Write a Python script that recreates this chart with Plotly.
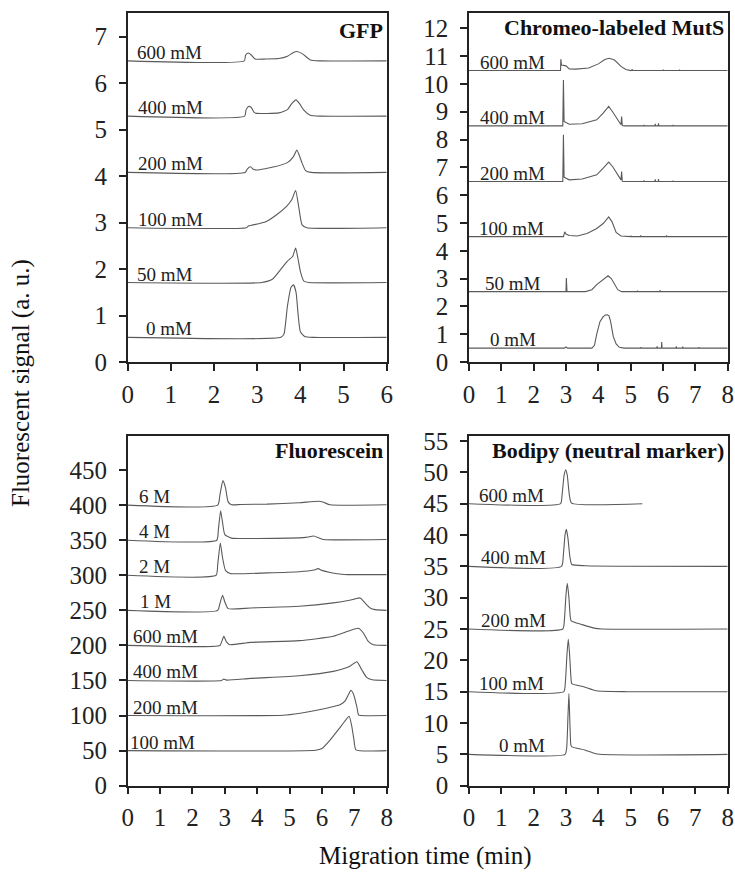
import plotly.graph_objects as go

FONT = "Liberation Serif, Times New Roman, serif"
LINE_COLOR = "#5a5a5a"

# ---------------- GFP panel ----------------
GFP_LABELS = ["0 mM", "50 mM", "100 mM", "200 mM", "400 mM", "600 mM"]
GFP_LABEL_X = [0.96, 0.86, 0.98, 1.0, 1.0, 0.97]
GFP_X = [
    [0, 3.55, 3.62, 3.7, 3.78, 3.84, 3.9, 3.95, 4.0, 4.1, 4.3, 6],
    [0, 3.1, 3.35, 3.55, 3.7, 3.82, 3.89, 3.95, 4.0, 4.08, 4.2, 6],
    [0, 2.75, 2.8, 2.9, 3.2, 3.45, 3.68, 3.8, 3.89, 3.96, 4.04, 4.15, 6],
    [0, 2.72, 2.77, 2.84, 2.92, 2.99, 3.4, 3.7, 3.84, 3.92, 4.04, 4.12, 4.25, 6],
    [0, 2.71, 2.74, 2.8, 2.86, 2.93, 2.98, 3.5, 3.7, 3.8, 3.9, 3.98, 4.08, 4.23, 4.45, 6],
    [0, 2.7, 2.73, 2.79, 2.87, 2.95, 3.2, 3.5, 3.7, 3.84, 3.92, 4.05, 4.23, 4.45, 6],
]
GFP_Y = [
    [0.53, 0.53, 0.6, 1.2, 1.6, 1.66, 1.5, 1.0, 0.65, 0.55, 0.53, 0.53],
    [1.71, 1.71, 1.78, 2.0, 2.17, 2.27, 2.45, 2.2, 1.95, 1.74, 1.71, 1.71],
    [2.89, 2.89, 2.93, 2.95, 3.02, 3.17, 3.35, 3.49, 3.69, 3.35, 2.95, 2.89, 2.89],
    [4.08, 4.08, 4.15, 4.2, 4.14, 4.13, 4.2, 4.29, 4.42, 4.56, 4.28, 4.12, 4.08, 4.08],
    [5.29, 5.29, 5.42, 5.5, 5.48, 5.37, 5.35, 5.36, 5.43, 5.56, 5.64, 5.56, 5.42, 5.31, 5.29, 5.29],
    [6.48, 6.48, 6.6, 6.65, 6.6, 6.52, 6.52, 6.53, 6.58, 6.66, 6.68, 6.63, 6.5, 6.48, 6.48],
]

# ---------------- Chromeo-labeled MutS panel ----------------
MUTS_LABELS = ["0 mM", "50 mM", "100 mM", "200 mM", "400 mM", "600 mM"]
MUTS_LABEL_X = [1.36, 1.36, 1.3, 1.35, 1.35, 1.35]
MUTS_X = [
    [0, 2.95, 3.0, 3.05, 3.8, 3.88, 3.95, 4.05, 4.15, 4.22, 4.28, 4.33, 4.38, 4.46, 4.55, 4.65, 4.8,
     5.3, 5.31, 5.32, 5.8, 5.82, 5.83, 5.95, 5.96, 5.97, 6.4, 6.41, 6.42, 6.6, 6.61, 6.62,
     7.1, 7.11, 7.12, 8],
    [0, 3.0, 3.01, 3.03, 3.6, 3.8, 3.95, 4.15, 4.3, 4.4, 4.5, 4.6, 4.72, 5.2, 5.21, 5.22,
     5.9, 5.91, 5.92, 8],
    [0, 2.92, 2.96, 3.0, 3.1, 3.35, 3.65, 3.95, 4.15, 4.32, 4.42, 4.55, 4.7, 4.85, 5.0,
     5.01, 5.02, 5.3, 5.31, 5.32, 6.1, 6.11, 6.12, 8],
    [0, 2.9, 2.92, 2.94, 3.0, 3.1, 3.5, 3.95, 4.15, 4.32, 4.44, 4.57, 4.7, 4.72, 4.74, 4.8,
     5.4, 5.41, 5.42, 5.75, 5.76, 5.77, 5.85, 5.86, 5.87, 6.3, 6.31, 6.32, 8],
    [0, 2.9, 2.92, 2.94, 3.0, 3.1, 3.5, 3.95, 4.15, 4.32, 4.44, 4.57, 4.7, 4.72, 4.74, 4.8,
     5.4, 5.41, 5.42, 5.75, 5.76, 5.77, 5.85, 5.86, 5.87, 6.3, 6.31, 6.32, 8],
    [0, 2.83, 2.84, 2.86, 3.0, 3.1, 3.3, 3.7, 4.0, 4.2, 4.33, 4.5, 4.7, 4.85, 5.0, 5.05,
     5.06, 6.0, 6.01, 6.02, 6.5, 6.51, 6.52, 8],
]
MUTS_Y = [
    [0.5, 0.5, 0.54, 0.5, 0.5, 0.6, 1.0, 1.45, 1.63, 1.69, 1.7, 1.66, 1.45, 0.92, 0.65, 0.53, 0.5,
     0.5, 0.53, 0.5, 0.5, 0.56, 0.5, 0.5, 0.72, 0.5, 0.5, 0.56, 0.5, 0.5, 0.55, 0.5,
     0.5, 0.53, 0.5, 0.5],
    [2.53, 2.53, 3.02, 2.53, 2.53, 2.6, 2.78, 2.96, 3.1, 3.0, 2.8, 2.6, 2.53, 2.53, 2.56, 2.53,
     2.53, 2.58, 2.53, 2.53],
    [4.51, 4.51, 4.68, 4.6, 4.55, 4.53, 4.62, 4.8, 4.98, 5.22, 5.05, 4.66, 4.53, 4.51, 4.51,
     4.54, 4.51, 4.51, 4.55, 4.51, 4.51, 4.55, 4.51, 4.51],
    [6.49, 6.49, 8.17, 6.65, 6.61, 6.55, 6.58, 6.73, 6.97, 7.19, 7.03, 6.77, 6.55, 6.85, 6.5, 6.49,
     6.49, 6.53, 6.49, 6.49, 6.57, 6.49, 6.49, 6.58, 6.49, 6.49, 6.52, 6.49, 6.49],
    [8.49, 8.49, 10.14, 8.65, 8.61, 8.55, 8.57, 8.71, 8.95, 9.19, 9.0, 8.75, 8.53, 8.83, 8.5, 8.49,
     8.49, 8.53, 8.49, 8.49, 8.56, 8.49, 8.49, 8.58, 8.49, 8.49, 8.52, 8.49, 8.49],
    [10.48, 10.48, 10.89, 10.68, 10.65, 10.54, 10.53, 10.57, 10.72, 10.88, 10.92, 10.86, 10.63,
     10.52, 10.48, 10.51, 10.48, 10.48, 10.51, 10.48, 10.48, 10.51, 10.48, 10.48],
]

# ---------------- Fluorescein panel ----------------
FLU_LABELS = ["100 mM", "200 mM", "400 mM", "600 mM", "1 M", "2 M", "4 M", "6 M"]
FLU_LABEL_X = [1.07, 1.16, 1.16, 1.16, 0.86, 0.84, 0.84, 0.84]
FLU_X = [
    [0, 5.8, 6.0, 6.25, 6.5, 6.7, 6.84, 6.92, 6.99, 7.05, 8],
    [0, 4.8, 5.33, 5.84, 6.36, 6.56, 6.71, 6.82, 6.89, 6.97, 7.08, 7.13, 7.2, 8],
    [0, 2.9, 2.97, 3.05, 3.8, 5.3, 6.35, 6.85, 7.08, 7.23, 7.38, 7.55, 8],
    [0, 2.85, 2.9, 2.97, 3.05, 3.15, 3.8, 5.3, 6.35, 6.85, 7.13, 7.28, 7.43, 7.59, 8],
    [0, 2.78, 2.85, 2.93, 3.0, 3.1, 3.8, 5.3, 6.35, 6.85, 7.0, 7.18, 7.33, 7.49, 7.64, 8],
    [0, 2.73, 2.78, 2.86, 2.93, 3.02, 3.17, 4.3, 5.3, 5.75, 5.88, 6.0, 6.25, 6.6, 6.8, 8],
    [0, 2.75, 2.8, 2.87, 2.93, 3.0, 3.2, 4.0, 5.5, 5.74, 5.9, 6.05, 8],
    [0, 2.78, 2.85, 2.94, 3.02, 3.1, 3.2, 3.5, 4.3, 5.3, 5.9, 6.05, 6.25, 8],
]
FLU_Y = [
    [50, 50.5, 53, 65, 79.5, 91.5, 99, 85, 65, 51, 50],
    [100, 100.5, 103.4, 107.5, 113, 115.5, 120.5, 130, 136, 131, 112, 101, 100, 100],
    [150, 150, 152, 150.5, 153, 156.8, 163, 170, 176.8, 165.3, 154.4, 151, 150],
    [200, 200, 205, 213, 205, 201, 204.4, 206.8, 213, 221, 224.4, 217.7, 205.8, 201, 200],
    [250, 250, 260, 271.5, 262, 252.5, 253.4, 255.8, 260.6, 264.4, 266, 267.7, 260.6, 253.4, 251, 250],
    [300, 300, 315, 346, 325, 307, 302.5, 303.4, 305, 307.5, 309.5, 307, 304, 301.5, 301, 301],
    [350, 350, 365, 392, 375, 358, 353, 352.5, 354, 356, 353.5, 351, 351],
    [400, 400, 415, 435, 425, 405, 400.5, 401, 401.5, 403.4, 405.5, 404, 400.5, 400.5],
]

# ---------------- Bodipy panel ----------------
BOD_LABELS = ["0 mM", "100 mM", "200 mM", "400 mM", "600 mM"]
BOD_LABEL_X = [1.65, 1.32, 1.37, 1.37, 1.32]
BOD_X = [
    [0, 2.97, 3.02, 3.06, 3.09, 3.12, 3.15, 3.18, 3.58, 3.97, 8],
    [0, 2.93, 2.98, 3.03, 3.07, 3.11, 3.15, 3.18, 3.55, 3.94, 4.9, 8],
    [0, 2.9, 2.95, 3.0, 3.04, 3.09, 3.13, 3.16, 3.5, 3.9, 4.1, 8],
    [0, 2.86, 2.92, 2.97, 3.01, 3.06, 3.12, 3.18, 3.6, 8],
    [0, 2.83, 2.88, 2.94, 2.99, 3.04, 3.1, 3.17, 5.36],
]
BOD_Y = [
    [5, 5, 6, 11, 14.7, 10, 6.5, 6.2, 5.7, 5.05, 5],
    [15, 15, 16.5, 21, 23.4, 21, 17.5, 16.3, 15.8, 15.15, 15, 15],
    [25, 25, 26.5, 30.5, 32.3, 30, 27, 26.3, 25.7, 25.1, 25, 25],
    [35, 35, 37, 40, 40.9, 39.5, 36.5, 35.3, 35.1, 35],
    [45, 45, 46.5, 49.5, 50.4, 49.5, 46.5, 45.1, 45],
]

PANELS = [
    # title, labels, label_x, xs, ys, xaxis id, yaxis id, title y (domain frac), line shape
    ("GFP", GFP_LABELS, GFP_LABEL_X, GFP_X, GFP_Y, "x", "y", 0.951, "spline"),
    ("Chromeo-labeled MutS", MUTS_LABELS, MUTS_LABEL_X, MUTS_X, MUTS_Y, "x2", "y2", 0.959, "linear"),
    ("Fluorescein", FLU_LABELS, FLU_LABEL_X, FLU_X, FLU_Y, "x3", "y3", 0.959, "spline"),
    ("Bodipy (neutral marker)", BOD_LABELS, BOD_LABEL_X, BOD_X, BOD_Y, "x4", "y4", 0.959, "spline"),
]

fig = go.Figure()
annotations = []
for title, labels, lab_x, xs, ys, xa, ya, ty, shape in PANELS:
    for lab, lx, x, y in zip(labels, lab_x, xs, ys):
        line = dict(color=LINE_COLOR, width=1.1, shape=shape)
        if shape == "spline":
            line["smoothing"] = 0.5
        fig.add_trace(go.Scatter(x=x, y=y, mode="lines", xaxis=xa, yaxis=ya,
                                 line=line, showlegend=False, hoverinfo="skip"))
        annotations.append(dict(x=lx, y=y[0], xref=xa, yref=ya, text=lab,
                                showarrow=False, xanchor="center", yanchor="bottom",
                                yshift=-4, font=dict(family=FONT, size=19, color="#222")))
    annotations.append(dict(x=1, y=ty, xref=f"{xa} domain", yref=f"{ya} domain",
                            text=f"<b>{title}</b>", showarrow=False, xanchor="right",
                            yanchor="middle", xshift=-2,
                            font=dict(family=FONT, size=22, color="#111")))

annotations.append(dict(x=21 / 735, y=1 - 383 / 879, xref="paper", yref="paper",
                        text="Fluorescent signal (a. u.)", textangle=-90, showarrow=False,
                        xanchor="center", yanchor="middle",
                        font=dict(family=FONT, size=25, color="#111")))
annotations.append(dict(x=425 / 735, y=1 - 856 / 879, xref="paper", yref="paper",
                        text="Migration time (min)", showarrow=False,
                        xanchor="center", yanchor="middle",
                        font=dict(family=FONT, size=25, color="#111")))

XL = [127.7 / 735, 386.7 / 735]
XR = [469 / 735, 727.7 / 735]
YT = [1 - 362 / 879, 1 - 13 / 879]
YB = [1 - 785.7 / 879, 1 - 435.7 / 879]


def axis_style(standoff):
    return dict(showline=True, mirror=True, linecolor="#222", linewidth=1.5,
                ticks="outside", ticklen=7, tickwidth=1.5, tickcolor="#222",
                showgrid=False, zeroline=False, automargin=False,
                ticklabelstandoff=standoff,
                tickfont=dict(family=FONT, size=25, color="#222"))


def xax(dom, rng, anchor):
    return dict(domain=dom, range=rng, anchor=anchor, tickmode="linear", dtick=1, tick0=0,
                **axis_style(2))


def yax(dom, rng, dtick, anchor):
    return dict(domain=dom, range=rng, anchor=anchor, tickmode="linear", dtick=dtick, tick0=0,
                **axis_style(7))


fig.update_layout(
    template="none",
    width=735, height=879,
    margin=dict(l=0, r=0, t=0, b=0),
    paper_bgcolor="white", plot_bgcolor="white",
    xaxis=xax(XL, [0, 6], "y"),
    yaxis=yax(YT, [0, 7.51], 1, "x"),
    xaxis2=xax(XR, [0, 8], "y2"),
    yaxis2=yax(YT, [0, 12.55], 1, "x2"),
    xaxis3=xax(XL, [0, 8], "y3"),
    yaxis3=yax(YB, [0, 499], 50, "x3"),
    xaxis4=xax(XR, [0, 8], "y4"),
    yaxis4=yax(YB, [0, 55.85], 5, "x4"),
    annotations=annotations,
)
# top tick label of Fluorescein axis is 450 (no 500 label)
fig.layout.yaxis3.update(tickmode="array", tickvals=list(range(0, 451, 50)))
fig.layout.yaxis4.update(tickmode="array", tickvals=list(range(0, 56, 5)))

fig.write_html("out.html")
